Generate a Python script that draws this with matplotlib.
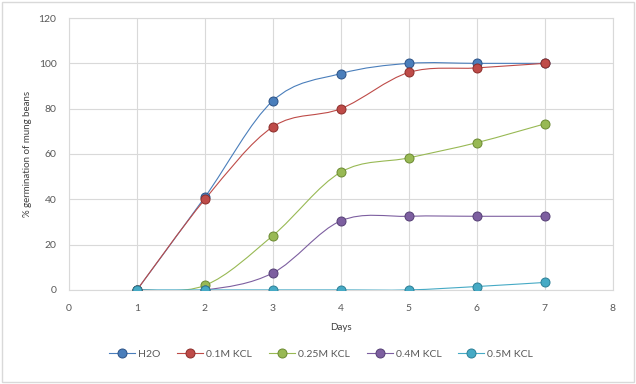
import numpy as np
import matplotlib
matplotlib.use("Agg")
from matplotlib import pyplot as plt
from matplotlib.path import Path
from matplotlib.patches import PathPatch, Rectangle
from matplotlib.lines import Line2D

plt.rcParams['font.family'] = ['Lato', 'DejaVu Sans']

days = [1, 2, 3, 4, 5, 6, 7]
h2o = [0, 41, 83.5, 95.5, 100, 100, 100]
kcl_01 = [0, 40, 72, 80, 96, 98, 100]
kcl_025 = [0, 2, 24, 52, 58.3, 65, 73.3]
kcl_04 = [0, 0, 7.5, 30.5, 32.5, 32.5, 32.5]
kcl_05 = [0, 0, 0, 0, 0, 1.5, 3.3]

labels = ["H2O", "0.1M KCL", "0.25M KCL", "0.4M KCL", "0.5M KCL"]
colors = ["#4a7ebb", "#be4b48", "#98b954", "#7d5fa0", "#46aac5"]
edges = ["#2c5286", "#8c2d2a", "#6b8a31", "#553f75", "#2b7f96"]
series = [h2o, kcl_01, kcl_025, kcl_04, kcl_05]


def smooth_path(x, y, t=1/6):
    # excel-like smoothed line: catmull-rom turned into cubic bezier segments
    x = np.asarray(x, float)
    y = np.asarray(y, float)
    verts = [(x[0], y[0])]
    codes = [Path.MOVETO]
    n = len(x)
    for i in range(n - 1):
        p0 = (x[max(i - 1, 0)], y[max(i - 1, 0)])
        p1 = (x[i], y[i])
        p2 = (x[i + 1], y[i + 1])
        p3 = (x[min(i + 2, n - 1)], y[min(i + 2, n - 1)])
        c1 = (p1[0] + (p2[0] - p0[0]) * t, p1[1] + (p2[1] - p0[1]) * t)
        c2 = (p2[0] - (p3[0] - p1[0]) * t, p2[1] - (p3[1] - p1[1]) * t)
        verts += [c1, c2, p2]
        codes += [Path.CURVE4] * 3
    return Path(verts, codes)


fig = plt.figure(figsize=(6.36, 3.84), dpi=100)
fig.patches.append(Rectangle((0.003, 0.004), 0.994, 0.99, transform=fig.transFigure,
                             fill=False, edgecolor="#d9d9d9", linewidth=1))
ax = fig.add_axes([0.1085, 0.245, 0.855, 0.708])

for ys, c, ec in zip(series, colors, edges):
    ax.add_patch(PathPatch(smooth_path(days, ys), fill=False, edgecolor=c,
                           linewidth=0.8, zorder=3))
    ax.plot(days, ys, linestyle="none", marker="o", markersize=6.5,
            markerfacecolor=c, markeredgecolor=ec, markeredgewidth=0.7, zorder=4)

ax.set_xlim(0, 8)
ax.set_ylim(0, 120)
ax.set_xticks(range(0, 9))
ax.set_yticks(range(0, 121, 20))
ax.grid(True, color="#d9d9d9", linewidth=0.8)
ax.set_axisbelow(True)
for s in ax.spines.values():
    s.set_color("#d9d9d9")
    s.set_linewidth(0.8)
ax.tick_params(length=0, labelsize=7.5, labelcolor="#595959")
ax.tick_params(axis="x", pad=10)
ax.tick_params(axis="y", pad=9)
ax.set_xlabel("Days", fontsize=7, color="#404040", labelpad=7)
ax.set_ylabel("% germination of mung beans", fontsize=7, color="#404040", labelpad=5)

handles = [Line2D([0], [0], color=c, linewidth=0.8, marker="o", markersize=6.5,
                  markerfacecolor=c, markeredgecolor=ec, markeredgewidth=0.7)
           for c, ec in zip(colors, edges)]
fig.legend(handles, labels, loc="center", bbox_to_anchor=(0.505, 0.078), ncol=5,
           frameon=False, fontsize=7.5, labelcolor="#595959", handlelength=2.5,
           handletextpad=0.3, columnspacing=1.6)

fig.savefig("out.png", dpi=100)
